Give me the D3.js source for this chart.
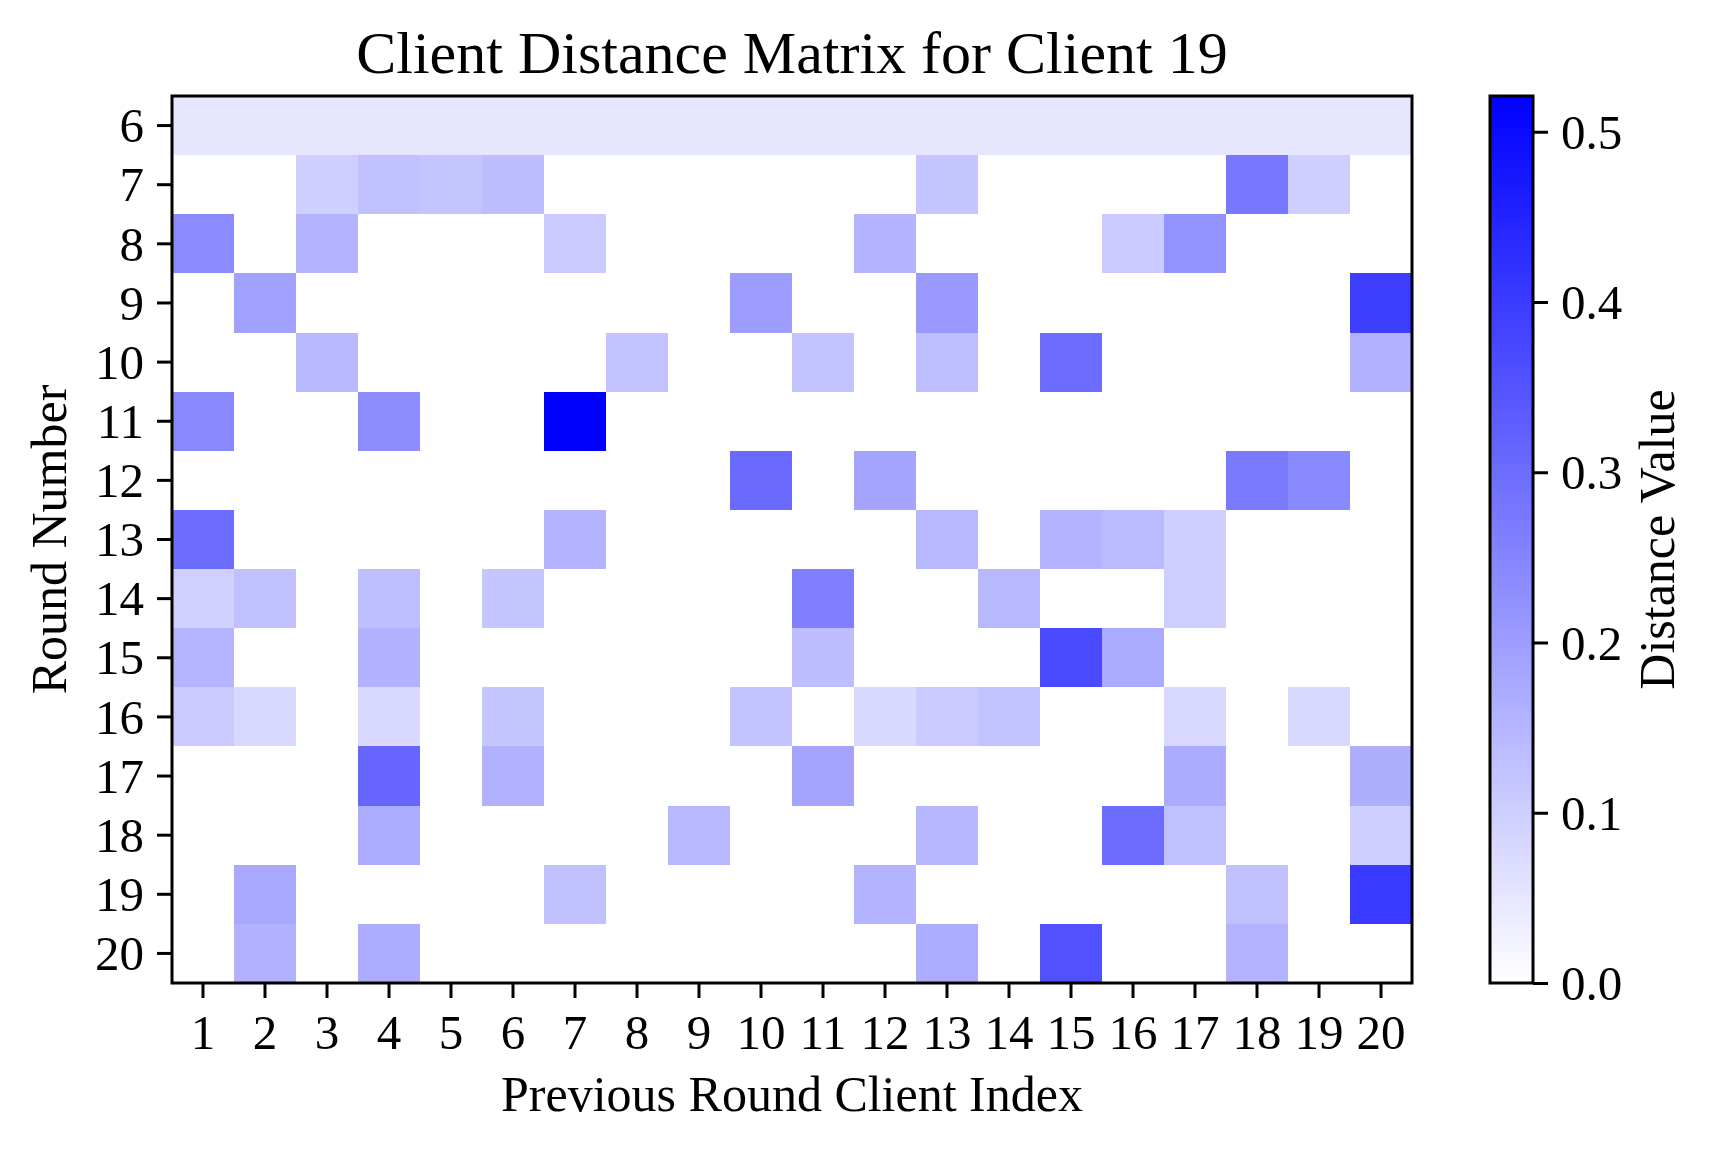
<!DOCTYPE html>
<html>
<head>
<meta charset="utf-8">
<script src="https://cdn.jsdelivr.net/npm/d3@7"></script>
<style>
  body { margin: 0; background: #fff; }
  text { font-family: "Liberation Serif", "Times New Roman", serif; fill: #000; }
</style>
</head>
<body>
<svg id="chart" width="1718" height="1152"></svg>
<script>
// x categories: previous round client index
const clients = d3.range(1, 21);
// y categories: round number
const rounds = d3.range(6, 21);

// distance values, one row per round (columns = clients 1..20)
const distanceRows = [
  [0.051, 0.051, 0.051, 0.051, 0.051, 0.051, 0.051, 0.051, 0.051, 0.051, 0.051, 0.051, 0.051, 0.051, 0.051, 0.051, 0.051, 0.051, 0.051, 0.051],
  [0, 0, 0.098, 0.128, 0.120, 0.134, 0, 0, 0, 0, 0, 0, 0.118, 0, 0, 0, 0, 0.275, 0.100, 0],
  [0.236, 0, 0.155, 0, 0, 0, 0.108, 0, 0, 0, 0, 0.155, 0, 0, 0, 0.108, 0.220, 0, 0, 0],
  [0, 0.193, 0, 0, 0, 0, 0, 0, 0, 0.200, 0, 0, 0.208, 0, 0, 0, 0, 0, 0, 0.395],
  [0, 0, 0.145, 0, 0, 0, 0, 0.125, 0, 0, 0.123, 0, 0.130, 0, 0.301, 0, 0, 0, 0, 0.160],
  [0.242, 0, 0, 0.232, 0, 0, 0.521, 0, 0, 0, 0, 0, 0, 0, 0, 0, 0, 0, 0, 0],
  [0, 0, 0, 0, 0, 0, 0, 0, 0, 0.305, 0, 0.185, 0, 0, 0, 0, 0, 0.271, 0.242, 0],
  [0.301, 0, 0, 0, 0, 0, 0.155, 0, 0, 0, 0, 0, 0.145, 0, 0.155, 0.140, 0.098, 0, 0, 0],
  [0.096, 0.128, 0, 0.130, 0, 0.118, 0, 0, 0, 0, 0.260, 0, 0, 0.145, 0, 0, 0.098, 0, 0, 0],
  [0.151, 0, 0, 0.160, 0, 0, 0, 0, 0, 0, 0.135, 0, 0, 0, 0.372, 0.173, 0, 0, 0, 0],
  [0.108, 0.077, 0, 0.077, 0, 0.118, 0, 0, 0, 0.122, 0, 0.077, 0.108, 0.125, 0, 0, 0.079, 0, 0.079, 0],
  [0, 0, 0, 0.311, 0, 0.160, 0, 0, 0, 0, 0.185, 0, 0, 0, 0, 0, 0.171, 0, 0, 0.165],
  [0, 0, 0, 0.167, 0, 0, 0, 0, 0.145, 0, 0, 0, 0.148, 0, 0, 0.300, 0.128, 0, 0, 0.098],
  [0, 0.177, 0, 0, 0, 0, 0.128, 0, 0, 0, 0, 0.155, 0, 0, 0, 0, 0, 0.128, 0, 0.405],
  [0, 0.160, 0, 0.167, 0, 0, 0, 0, 0, 0, 0, 0, 0.167, 0, 0.356, 0, 0, 0.155, 0, 0]
];

// colorbar ticks
const colorTicks = [0.0, 0.1, 0.2, 0.3, 0.4, 0.5];

const svg = d3.select("#chart");

const plot = { left: 172, right: 1412, top: 96, bottom: 983 };
const bar = { left: 1490, right: 1533 };

// flatten to cells
const cells = [];
rounds.forEach((round, i) => {
    clients.forEach((client, j) => {
        cells.push({ round: round, client: client, value: distanceRows[i][j] });
    });
});

const vmax = d3.max(cells, d => d.value);

const xScale = d3.scaleBand().domain(clients).range([plot.left, plot.right]).padding(0);
const yScale = d3.scaleBand().domain(rounds).range([plot.top, plot.bottom]).padding(0);
const color = d3.scaleLinear().domain([0, vmax]).range(["#ffffff", "#0000ff"]);

// heatmap cells
svg.append("g")
    .attr("class", "cells")
    .selectAll("rect")
    .data(cells)
    .enter()
    .append("rect")
    .attr("x", d => xScale(d.client))
    .attr("y", d => yScale(d.round))
    .attr("width", xScale.bandwidth() + 0.5)
    .attr("height", yScale.bandwidth() + 0.5)
    .attr("shape-rendering", "crispEdges")
    .style("fill", d => color(d.value));

// frame
svg.append("rect")
    .attr("x", plot.left)
    .attr("y", plot.top)
    .attr("width", plot.right - plot.left)
    .attr("height", plot.bottom - plot.top)
    .style("fill", "none")
    .style("stroke", "#000")
    .style("stroke-width", 3);

function styleAxis(g) {
    g.select(".domain").remove();
    g.selectAll(".tick line").style("stroke", "#000").style("stroke-width", 3);
    g.selectAll(".tick text")
        .style("font-family", "'Liberation Serif', 'Times New Roman', serif")
        .style("font-size", "49px")
        .style("fill", "#000");
}

// x axis
svg.append("g")
    .attr("transform", `translate(0,${plot.bottom})`)
    .call(d3.axisBottom(xScale).tickSize(15).tickPadding(13))
    .call(styleAxis)
    .selectAll(".tick text").attr("dy", "0.78em");

// y axis
svg.append("g")
    .attr("transform", `translate(${plot.left},0)`)
    .call(d3.axisLeft(yScale).tickSize(15).tickPadding(13))
    .call(styleAxis)
    .selectAll(".tick text").attr("dy", "0.34em");

// title
svg.append("text")
    .attr("x", (plot.left + plot.right) / 2)
    .attr("y", 73)
    .attr("text-anchor", "middle")
    .style("font-size", "60px")
    .text("Client Distance Matrix for Client 19");

// axis labels
svg.append("text")
    .attr("x", (plot.left + plot.right) / 2)
    .attr("y", 1111)
    .attr("text-anchor", "middle")
    .style("font-size", "50px")
    .text("Previous Round Client Index");

svg.append("text")
    .attr("transform", `translate(66,${(plot.top + plot.bottom) / 2}) rotate(-90)`)
    .attr("text-anchor", "middle")
    .style("font-size", "50px")
    .text("Round Number");

// colorbar
const defs = svg.append("defs");
const grad = defs.append("linearGradient")
    .attr("id", "cbar")
    .attr("x1", 0).attr("y1", 1).attr("x2", 0).attr("y2", 0);
grad.append("stop").attr("offset", "0%").attr("stop-color", color(0));
grad.append("stop").attr("offset", "100%").attr("stop-color", color(vmax));

const barScale = d3.scaleLinear().domain([0, vmax]).range([plot.bottom, plot.top]);

svg.append("rect")
    .attr("x", bar.left)
    .attr("y", plot.top)
    .attr("width", bar.right - bar.left)
    .attr("height", plot.bottom - plot.top)
    .style("fill", "url(#cbar)")
    .style("stroke", "#000")
    .style("stroke-width", 3);

svg.append("g")
    .attr("transform", `translate(${bar.right},0)`)
    .call(d3.axisRight(barScale).tickValues(colorTicks).tickFormat(d3.format(".1f")).tickSize(15).tickPadding(13))
    .call(styleAxis)
    .selectAll(".tick text").attr("dy", "0.34em");

svg.append("text")
    .attr("transform", `translate(1674,${(plot.top + plot.bottom) / 2}) rotate(-90)`)
    .attr("text-anchor", "middle")
    .style("font-size", "50px")
    .text("Distance Value");
</script>
</body>
</html>
